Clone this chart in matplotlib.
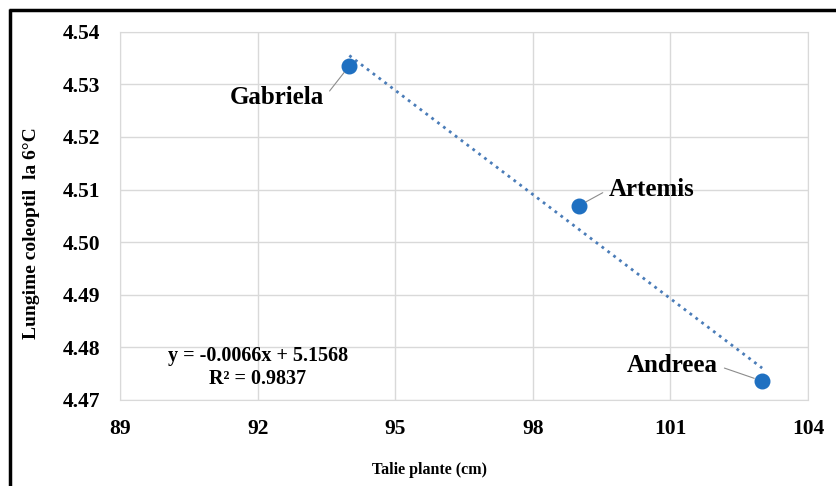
import numpy as np
import matplotlib
matplotlib.use("Agg")
from matplotlib import pyplot as plt
from matplotlib.lines import Line2D

# data
soiuri = ["Gabriela", "Artemis", "Andreea"]
talie = [94.0, 99.0, 103.0]
coleoptil = [4.5335, 4.5069, 4.4736]
ecuatie = "y = -0.0066x + 5.1568\nR² = 0.9837"
x_ticks = [89, 92, 95, 98, 101, 104]
y_ticks = [4.47, 4.48, 4.49, 4.50, 4.51, 4.52, 4.53, 4.54]

plt.rcParams['font.family'] = ['Liberation Serif', 'DejaVu Serif']
plt.rcParams['font.weight'] = 'bold'

fig = plt.figure(figsize=(8.36, 4.86), dpi=100)
ax = fig.add_axes([0.1435, 0.177, 0.823, 0.7578])

# linear trendline
coef = np.polyfit(talie, coleoptil, 1)
xs = np.array([min(talie), max(talie)])
ax.plot(xs, np.polyval(coef, xs), linestyle=':', color='#4a7cb8', lw=2.0, zorder=2)

ax.scatter(talie, coleoptil, s=110, color='#1f70c1', zorder=3)

# point labels with leader lines (offsets in points, relpos = where the line leaves the text)
offsets = {"Gabriela": (-52, -23, 'center', (1.0, 0.5)),
           "Artemis": (22, 12, 'left', (0.0, 0.5)),
           "Andreea": (-32, 11, 'right', (1.0, 0.5))}
for name, x, y in zip(soiuri, talie, coleoptil):
    dx, dy, ha, rp = offsets[name]
    ax.annotate(name, xy=(x, y), xytext=(dx, dy), textcoords='offset points',
                ha=ha, va='center', fontsize=18, fontweight='bold',
                arrowprops=dict(arrowstyle='-', color='#8c8c8c', lw=0.8,
                                relpos=rp, shrinkA=3, shrinkB=6))

ax.text(92.0, 4.4762, ecuatie, ha='center', va='center', fontsize=14.5,
        fontweight='bold', linespacing=1.2)

ax.set_xlim(89, 104)
ax.set_ylim(4.47, 4.54)
ax.set_xticks(x_ticks)
ax.set_yticks(y_ticks)
ax.set_yticklabels(["%.2f" % v for v in y_ticks])
ax.tick_params(axis='both', length=0, labelsize=15.5)
ax.tick_params(axis='y', pad=14)
ax.tick_params(axis='x', pad=14)
ax.grid(True, color='#d9d9d9', lw=1)
ax.set_axisbelow(True)
for s in ax.spines.values():
    s.set_color('#d9d9d9')

ax.set_xlabel("Talie plante (cm)", fontsize=11.5, fontweight='bold')
ax.xaxis.set_label_coords(0.4506, -0.168)
ax.set_ylabel("Lungime coleoptil  la 6°C", fontsize=14, fontweight='bold')
ax.yaxis.set_label_coords(-0.116, 0.4534)

# black frame (top and left only visible in the reference)
fig.add_artist(Line2D([0.011, 1.0], [0.980, 0.980], color='black', lw=2.5,
                      solid_capstyle='butt', transform=fig.transFigure))
fig.add_artist(Line2D([0.0125, 0.0125], [0.0, 0.982], color='black', lw=2.5,
                      solid_capstyle='butt', transform=fig.transFigure))

fig.savefig("out.png", dpi=100)
